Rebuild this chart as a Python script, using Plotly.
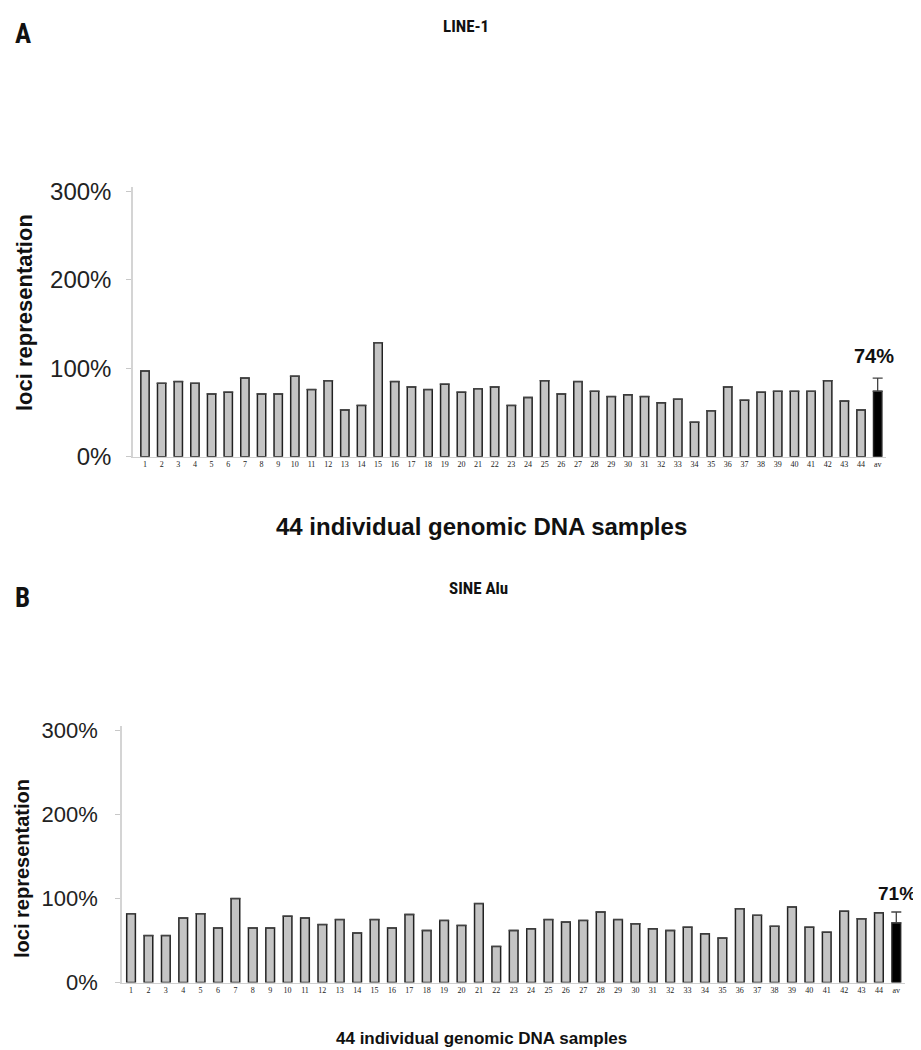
import plotly.graph_objects as go

categories = [str(i) for i in range(1, 45)] + ["av"]

line1_values = [97, 83, 85, 83, 71, 73, 89, 71, 71, 91, 76, 86, 53, 58, 129, 85, 79, 76, 82, 73, 77, 79,
                58, 67, 86, 71, 85, 74, 68, 70, 68, 61, 65, 39, 52, 79, 64, 73, 74, 74, 74, 86, 63, 53]
line1_avg = 74
line1_err = 15

alu_values = [82, 56, 56, 77, 82, 65, 100, 65, 65, 79, 77, 69, 75, 59, 75, 65, 81, 62, 74, 68, 94, 43,
              62, 64, 75, 72, 74, 84, 75, 70, 64, 62, 66, 58, 53, 88, 80, 67, 90, 66, 60, 85, 76, 83]
alu_avg = 71
alu_err = 13

y_ticks = [0, 100, 200, 300]
y_ticktext = ["0%", "100%", "200%", "300%"]

# figure size and conversion from target picture pixels to paper fractions
W, H = 913, 1062
X_OFF = 8
Y_OFF, Y_SCALE = 20.6, 0.974

def fx(px):
    return (px - X_OFF) / W

def fy(py):
    return 1 - ((py - Y_OFF) / Y_SCALE) / H

fig = go.Figure()

def add_panel(values, avg, err, xa, ya):
    vals = values + [avg]
    colors = ["#c4c4c4"] * len(values) + ["#000000"]
    errs = [0] * len(values) + [err]
    fig.add_trace(go.Bar(
        x=categories, y=vals, xaxis=xa, yaxis=ya,
        marker=dict(color=colors, line=dict(color="#222222", width=1.5)),
        width=0.5,
        error_y=dict(type="data", array=errs, symmetric=False, arrayminus=[0] * len(vals),
                     color="#444444", thickness=1.3, width=5),
        showlegend=False, hoverinfo="x+y",
    ))

add_panel(line1_values, line1_avg, line1_err, "x", "y")
add_panel(alu_values, alu_avg, alu_err, "x2", "y2")

sans = "Arial, Liberation Sans, sans-serif"
narrow = "Liberation Sans Narrow, Arial Narrow, Roboto Condensed, Arial, sans-serif"

xcommon = dict(type="category", showline=True, linecolor="#cfcfcf", linewidth=1,
               ticks="", showgrid=False, zeroline=False,
               tickfont=dict(family="Liberation Serif, Times New Roman, serif", size=8, color="#222"))
ycommon = dict(showline=True, linecolor="#d4d4d4", linewidth=1.5, ticks="outside", ticklen=5,
               tickcolor="#c8c8c8", showgrid=False, zeroline=False,
               tickvals=y_ticks, ticktext=y_ticktext, range=[0, 305])

fig.update_layout(
    width=W, height=H,
    margin=dict(l=0, r=0, t=0, b=0),
    paper_bgcolor="white", plot_bgcolor="white",
    xaxis=dict(xcommon, domain=[fx(133), fx(886)], anchor="y", range=[-0.72, 44.5]),
    yaxis=dict(ycommon, domain=[fy(458), fy(189.6)], anchor="x", ticklabelstandoff=10,
               tickfont=dict(family=sans, size=24, color="#222")),
    xaxis2=dict(xcommon, domain=[fx(122), fx(905)], anchor="y2", range=[-0.52, 44.5]),
    yaxis2=dict(ycommon, domain=[fy(981), fy(726)], anchor="x2", ticklabelstandoff=13,
                tickfont=dict(family=sans, size=22, color="#222")),
    bargap=0.5,
)

annotations = [
    dict(text="<b>A</b>", x=13, y=38, size=27, xanchor="left", fam=narrow),
    dict(text="<b>LINE-1</b>", x=466, y=30, size=17, xanchor="center", fam=narrow),
    dict(text="<b>B</b>", x=13, y=598, size=27, xanchor="left", fam=narrow),
    dict(text="<b>SINE Alu</b>", x=478, y=589, size=17, xanchor="center", fam=narrow),
    dict(text="<b>44 individual genomic DNA samples</b>", x=481, y=527, size=24, xanchor="center", fam=sans),
    dict(text="<b>44 individual genomic DNA samples</b>", x=481, y=1037, size=17, xanchor="center", fam=sans),
    dict(text="<b>74%</b>", x=874, y=358, size=20, xanchor="center", fam=sans),
    dict(text="<b>71%</b>", x=897, y=892, size=19, xanchor="center", fam=sans),
]
for a in annotations:
    fig.add_annotation(text=a["text"], x=fx(a["x"]), y=fy(a["y"]), xref="paper", yref="paper",
                       xanchor=a["xanchor"], yanchor="middle", showarrow=False,
                       font=dict(family=a["fam"], size=a["size"], color="#111"))

# rotated y-axis titles
for xpos, ypos, size in [(25, 315, 22), (22, 868, 20)]:
    fig.add_annotation(text="<b>loci representation</b>", x=fx(xpos), y=fy(ypos),
                       xref="paper", yref="paper", xanchor="center", yanchor="middle",
                       textangle=-90, showarrow=False,
                       font=dict(family=sans, size=size, color="#111"))

fig.write_html("out.html")
